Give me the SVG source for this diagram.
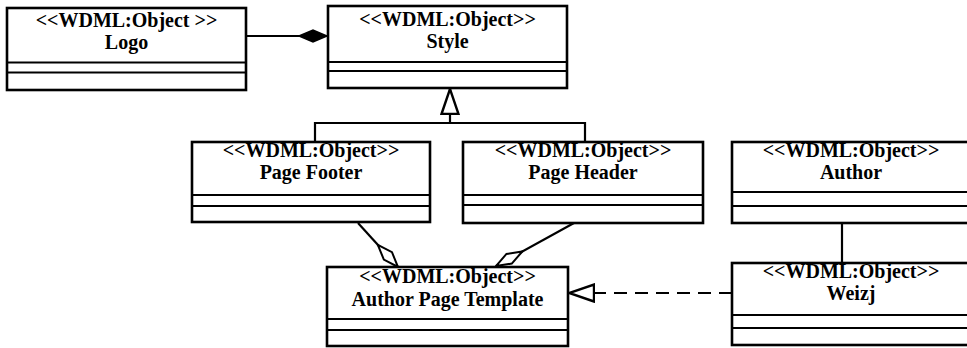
<svg xmlns="http://www.w3.org/2000/svg" width="967" height="348" viewBox="0 0 967 348">
  <style>
    .box { fill: #fff; stroke: #000; stroke-width: 2.6; }
    .div { stroke: #000; stroke-width: 2.2; fill: none; }
    .t { font-family: "Liberation Serif", "Times New Roman", serif; font-weight: bold; font-size: 20px; text-anchor: middle; fill: #000; }
    .ln { stroke: #000; stroke-width: 2.2; fill: none; }
    .dash { stroke-dasharray: 13 8; }
  </style>
  <defs>
    <marker id="diamond-filled" markerUnits="userSpaceOnUse" viewBox="0 -8 32 16" markerWidth="32" markerHeight="16" refX="30" refY="0" orient="auto">
      <path d="M2,0 L16,-6 L30,0 L16,6 Z" fill="#000" stroke="#000" stroke-width="1.5"/>
    </marker>
    <marker id="diamond-open" markerUnits="userSpaceOnUse" viewBox="0 -8 32 16" markerWidth="32" markerHeight="16" refX="31" refY="0" orient="auto">
      <path d="M1,0 L16,-5.5 L31,0 L16,5.5 Z" fill="#fff" stroke="#000" stroke-width="2"/>
    </marker>
    <marker id="tri-open" markerUnits="userSpaceOnUse" viewBox="0 -10 28 20" markerWidth="28" markerHeight="20" refX="26" refY="0" orient="auto">
      <path d="M1,-8.5 L26,0 L1,8.5 Z" fill="#fff" stroke="#000" stroke-width="2.4" stroke-linejoin="miter"/>
    </marker>
  </defs>

  <!-- connectors -->
  <g id="connectors">
    <!-- Logo composed into Style -->
    <line class="ln" x1="246" y1="36" x2="327" y2="36" marker-end="url(#diamond-filled)"/>
    <!-- Page Footer / Page Header generalize Style -->
    <polyline class="ln" points="315,142 315,123 585,123 585,142"/>
    <line class="ln" x1="450" y1="123" x2="450" y2="89" marker-end="url(#tri-open)"/>
    <!-- aggregations into Author Page Template -->
    <line class="ln" x1="358" y1="223" x2="398" y2="267" marker-end="url(#diamond-open)"/>
    <line class="ln" x1="574" y1="223" x2="496" y2="266" marker-end="url(#diamond-open)"/>
    <!-- Weizj realizes Author Page Template -->
    <line class="ln dash" x1="732" y1="293" x2="569" y2="293" marker-end="url(#tri-open)"/>
    <!-- Author associated with Weizj -->
    <line class="ln" x1="842" y1="223" x2="842" y2="263"/>
  </g>

  <g id="logo">
    <rect class="box" x="7" y="8" width="239" height="82"/>
    <line class="div" x1="7" y1="62.5" x2="246" y2="62.5"/>
    <line class="div" x1="7" y1="72.5" x2="246" y2="72.5"/>
    <text class="t" x="126.5" y="27">&lt;&lt;WDML:Object &gt;&gt;</text>
    <text class="t" x="126.5" y="49">Logo</text>
  </g>

  <g id="style">
    <rect class="box" x="328" y="6" width="239" height="82"/>
    <line class="div" x1="328" y1="62" x2="567" y2="62"/>
    <line class="div" x1="328" y1="71" x2="567" y2="71"/>
    <text class="t" x="447.5" y="26">&lt;&lt;WDML:Object&gt;&gt;</text>
    <text class="t" x="447.5" y="48">Style</text>
  </g>

  <g id="page-footer">
    <rect class="box" x="192" y="142" width="238" height="80"/>
    <line class="div" x1="192" y1="195" x2="430" y2="195"/>
    <line class="div" x1="192" y1="206" x2="430" y2="206"/>
    <text class="t" x="311" y="157">&lt;&lt;WDML:Object&gt;&gt;</text>
    <text class="t" x="311" y="179">Page Footer</text>
  </g>

  <g id="page-header">
    <rect class="box" x="463" y="142" width="240" height="81"/>
    <line class="div" x1="463" y1="195" x2="703" y2="195"/>
    <line class="div" x1="463" y1="205" x2="703" y2="205"/>
    <text class="t" x="583" y="157">&lt;&lt;WDML:Object&gt;&gt;</text>
    <text class="t" x="583" y="179">Page Header</text>
  </g>

  <g id="author">
    <rect class="box" x="732" y="142" width="240" height="81"/>
    <line class="div" x1="732" y1="192" x2="972" y2="192"/>
    <line class="div" x1="732" y1="206" x2="972" y2="206"/>
    <text class="t" x="851" y="157">&lt;&lt;WDML:Object&gt;&gt;</text>
    <text class="t" x="851" y="179">Author</text>
  </g>

  <g id="author-page-template">
    <rect class="box" x="327" y="267" width="241" height="79"/>
    <line class="div" x1="327" y1="319" x2="568" y2="319"/>
    <line class="div" x1="327" y1="330" x2="568" y2="330"/>
    <text class="t" x="447.5" y="283">&lt;&lt;WDML:Object&gt;&gt;</text>
    <text class="t" x="447.5" y="306">Author Page Template</text>
  </g>

  <g id="weizj">
    <rect class="box" x="732" y="263" width="240" height="82"/>
    <line class="div" x1="732" y1="315" x2="972" y2="315"/>
    <line class="div" x1="732" y1="328" x2="972" y2="328"/>
    <text class="t" x="851" y="278">&lt;&lt;WDML:Object&gt;&gt;</text>
    <text class="t" x="851" y="300">Weizj</text>
  </g>
</svg>
